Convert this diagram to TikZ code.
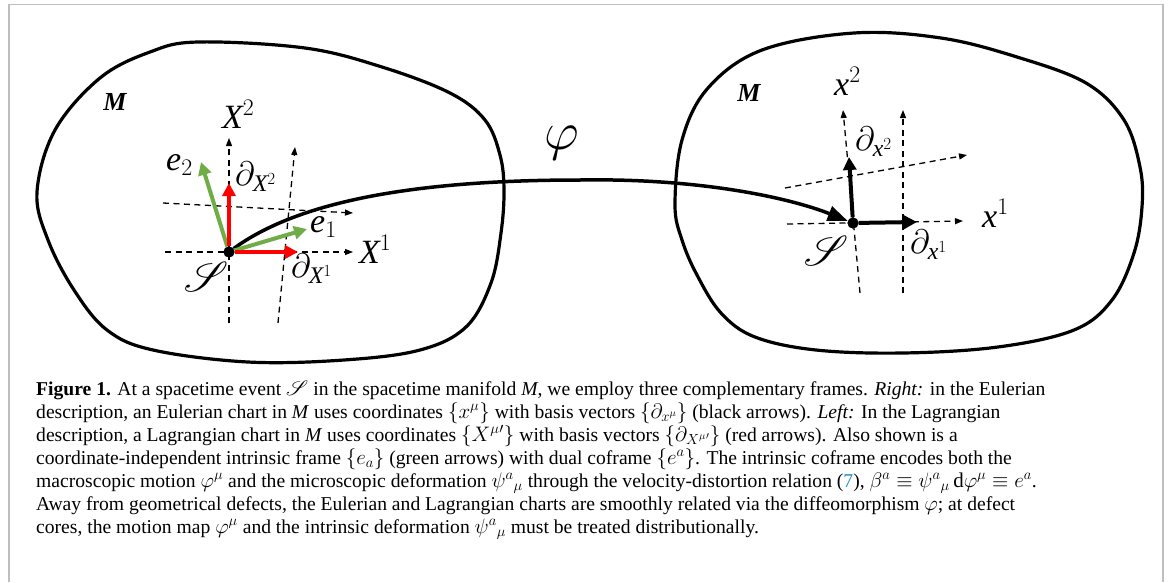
\RequirePackage{fix-cm}
\documentclass[tikz,border=0pt]{standalone}
\usepackage{fontspec}
\setmainfont{Liberation Serif}
\usepackage{amsmath,amssymb}
\usepackage{mathrsfs}
% scalable script letters
\DeclareFontFamily{U}{rsfs}{\skewchar\font127}
\DeclareFontShape{U}{rsfs}{m}{n}{<-> rsfs10}{}
% caption maths a little larger than its text
\DeclareMathSizes{19.6}{21}{14.7}{10.5}
\usepackage{tikz}
\usetikzlibrary{calc,arrows.meta}

\definecolor{framegreen}{RGB}{112,173,71}
\definecolor{framered}{RGB}{255,0,0}
\definecolor{linkblue}{RGB}{30,140,200}
\definecolor{boxgray}{RGB}{190,190,190}

\tikzset{
  manifold/.style={line width=3.2pt},
  axisline/.style={line width=1.3pt, dash pattern=on 6pt off 4.5pt, -{Triangle[length=8pt,width=6pt]}},
  basisvec/.style={line width=4pt, -{Triangle[length=13pt,width=13pt]}},
  event/.style={circle, fill=black, inner sep=0pt, minimum size=11pt},
  lbl/.style={font=\fontsize{34}{34}\selectfont, inner sep=0pt, anchor=base west},
  mlbl/.style={font=\fontsize{26}{26}\selectfont\bfseries\itshape},
  slbl/.style={font=\fontsize{42}{42}\selectfont},
  capline/.style={anchor=base west, inner sep=0pt, font=\fontsize{19.6}{23}\selectfont},
}

\begin{document}
\begin{tikzpicture}[x=1pt,y=1pt]
\useasboundingbox (0,0) rectangle (1171,-582);

% page frame (open at the bottom)
\draw[boxgray, line width=1.5pt] (9,-582) -- (9,-4.5) -- (1163,-4.5) -- (1163,-582);

%%% MANIFOLD PATCHES
\draw[manifold] plot[smooth cycle, tension=0.6] coordinates {
  (37,-192) (55,-130) (100,-78) (150,-52) (198,-42) (305,-48)
  (382,-67) (450,-93) (485,-120) (500,-155) (504,-190) (501,-233) (491,-283)
  (466,-327) (420,-350) (344,-360) (248,-362) (153,-350) (107,-330) (74,-290) (48,-240)};
\draw[manifold] plot[smooth cycle, tension=0.6] coordinates {
  (675,-205) (682,-140) (708,-88) (762,-50) (854,-33) (941,-38) (1017,-57)
  (1086,-83) (1124,-120) (1140,-167) (1142,-207) (1134,-253) (1112,-300)
  (1074,-330) (998,-347) (903,-353) (816,-350) (755,-337) (721,-313) (697,-275) (682,-240)};

% events (reference nodes)
\node (SL) [event] at (229,-252) {};
\node (SR) [event] at (853,-223) {};

%%% LAGRANGIAN SIDE (left)
% axis end points, relative to the event
\coordinate (LXa) at ($(SL)+(-64,0)$);   \coordinate (LXb) at ($(SL)+(124,0)$);
\coordinate (LYa) at ($(SL)+(0,-71)$);   \coordinate (LYb) at ($(SL)+(0,114)$);
\coordinate (LUa) at ($(SL)+(-66,49)$);  \coordinate (LUb) at ($(SL)+(124,39)$);
\coordinate (LVa) at ($(SL)+(49,-71)$);  \coordinate (LVb) at ($(SL)+(66,105)$);
\foreach \a/\b in {LXa/LXb,LYa/LYb,LUa/LUb,LVa/LVb}
  \draw[axisline] (\a) -- (\b);

%%% EULERIAN SIDE (right)
\coordinate (RXa) at ($(SR)+(-66,-1)$);  \coordinate (RXb) at ($(SR)+(110,2)$);
\coordinate (RYa) at ($(SR)+(7,-70)$);   \coordinate (RYb) at ($(SR)+(-10,113)$);
\coordinate (RUa) at ($(SR)+(-68,35)$);  \coordinate (RUb) at ($(SR)+(114,68)$);
\coordinate (RVa) at ($(SR)+(50,-70)$);  \coordinate (RVb) at ($(SR)+(50,113)$);
\foreach \a/\b in {RXa/RXb,RYa/RYb,RUa/RUb,RVa/RVb}
  \draw[axisline] (\a) -- (\b);

% the motion map
\coordinate (mid) at (580,-180);
\draw[line width=3.5pt, -{Triangle[length=20pt,width=15pt]}]
  (SL) .. controls ($(SL)+(71,52)$) and ($(SL)+(191,72)$) .. (mid)
       .. controls ($(mid)+(120,2)$) and ($(SR)+(-63,25)$) .. (SR);

% intrinsic frame (green) and Lagrangian basis (red)
\coordinate (e1) at ($(SL)+(78,23)$);
\coordinate (e2) at ($(SL)+(-28,90)$);
\coordinate (dX1) at ($(SL)+(69,0)$);
\coordinate (dX2) at ($(SL)+(0,69)$);
\draw[basisvec, framegreen] (SL) -- (e1);
\draw[basisvec, framegreen] (SL) -- (e2);
\draw[basisvec, framered] (SL) -- (dX1);
\draw[basisvec, framered] (SL) -- (dX2);

% Eulerian basis (black)
\coordinate (dx1) at ($(SR)+(64,1)$);
\coordinate (dx2) at ($(SR)+(-4,66)$);
\draw[basisvec] (SR) -- (dx1);
\draw[basisvec] (SR) -- (dx2);

% redraw the events on top
\node[event] at (SL) {};
\node[event] at (SR) {};

%%% LABELS
\node (ML) [mlbl] at (115,-102) {M};
\node (MR) [mlbl] at (749,-93) {M};
\node (phi) [font=\fontsize{54}{54}\selectfont] at (562,-143) {$\varphi$};

\node (labX1) [lbl] at (359,-263) {$\mathit{X}^{1}$};
\node (labX2) [lbl] at (222,-128) {$\mathit{X}^{2}$};
\node (labe2) [lbl] at (166,-170) {$\mathit{e}_{2}$};
\node (labe1) [lbl] at (310,-232) {$\mathit{e}_{1}$};
\node (labdX2) [lbl] at (235,-185) {$\partial_{\mathit{X}^{2}}$};
\node (labdX1) [lbl] at (291,-277) {$\partial_{\mathit{X}^{1}}$};
\node (labSL) [slbl] at (206,-277) {$\mathscr{S}$};

\node (labx1) [lbl] at (982,-227) {$\mathit{x}^{1}$};
\node (labx2) [lbl] at (834,-95) {$\mathit{x}^{2}$};
\node (labdx2) [lbl] at (855,-150) {$\partial_{\mathit{x}^{2}}$};
\node (labdx1) [lbl] at (910,-253) {$\partial_{\mathit{x}^{1}}$};
\node (labSR) [slbl] at (826,-251) {$\mathscr{S}$};

%%% CAPTION
\node (cap1) [capline] at (36,-395) {\textbf{Figure 1.} At a spacetime event $\mathscr{S}$ in the spacetime manifold \textit{M}, we employ three complementary frames. \textit{Right:} in the Eulerian};
\node (cap2) [capline] at ($(cap1.base west)+(0,-23)$) {description, an Eulerian chart in \textit{M} uses coordinates $\{x^{\mu}\}$ with basis vectors $\{\partial_{x^{\mu}}\}$ (black arrows). \textit{Left:} In the Lagrangian};
\node (cap3) [capline] at ($(cap2.base west)+(0,-23)$) {description, a Lagrangian chart in \textit{M} uses coordinates $\{X^{\mu}{}'\}$ with basis vectors $\{\partial_{X^{\mu}{}'}\}$ (red arrows). Also shown is a};
\node (cap4) [capline] at ($(cap3.base west)+(0,-23)$) {coordinate-independent intrinsic frame $\{e_{a}\}$ (green arrows) with dual coframe $\{e^{a}\}$. The intrinsic coframe encodes both the};
\node (cap5) [capline] at ($(cap4.base west)+(0,-23)$) {macroscopic motion $\varphi^{\mu}$ and the microscopic deformation $\psi^{a}{}_{\mu}$ through the velocity-distortion relation (\textcolor{linkblue}{7}), $\beta^{a}\equiv\psi^{a}{}_{\mu}\,\mathrm{d}\varphi^{\mu}\equiv e^{a}$.};
\node (cap6) [capline] at ($(cap5.base west)+(0,-23)$) {Away from geometrical defects, the Eulerian and Lagrangian charts are smoothly related via the diffeomorphism $\varphi$; at defect};
\node (cap7) [capline] at ($(cap6.base west)+(0,-23)$) {cores, the motion map $\varphi^{\mu}$ and the intrinsic deformation $\psi^{a}{}_{\mu}$ must be treated distributionally.};
\end{tikzpicture}
\end{document}
